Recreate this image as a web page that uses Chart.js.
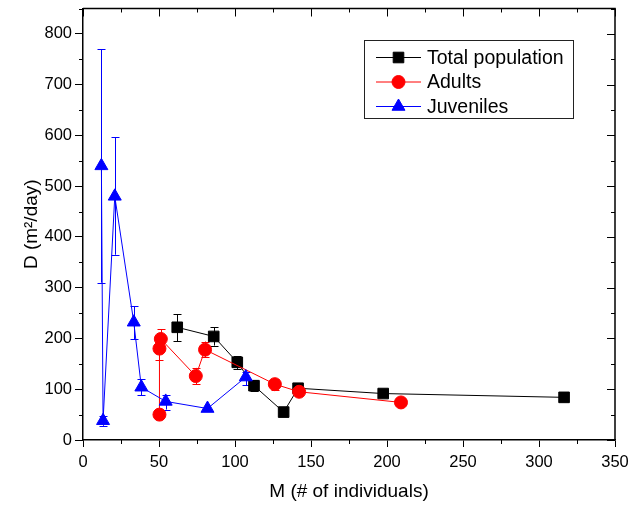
<!DOCTYPE html>
<html><head><meta charset="utf-8">
<script src="https://cdn.jsdelivr.net/npm/chart.js@4.4.0/dist/chart.umd.min.js"></script>
<style>html,body{margin:0;padding:0;background:#fff}#wrap{width:631px;height:507px}</style>
</head><body><div id="wrap"><canvas id="c" width="631" height="507"></canvas></div>
<script>
// ---- data ----
const seriesNames = ['Total population', 'Adults', 'Juveniles'];

const totalM    = [62, 86, 101.5, 112.5, 132, 141.5, 197.5, 316.5];
const totalD    = [222, 204, 153, 107, 55, 102, 91.5, 84];
const totalHigh = [248, 222, 165, 118, null, null, null, null];
const totalLow  = [195, 186, 140, 97, null, null, null, null];

const adultsM    = [50.3, 50.3, 51.2, 74.2, 80.3, 126.2, 142.2, 209.2];
const adultsD    = [50, 180, 199, 126, 178, 110, 95, 74];
const adultsHigh = [null, 203, 218, 142, 194, 120, null, null];
const adultsLow  = [null, 157, 180, 110, 163, 99, null, null];

const juvM    = [12.1, 13.2, 20.9, 33.4, 38.4, 54.4, 81.9, 107.1];
const juvD    = [540, 38, 480, 232, 104, 76, 62, 124];
const juvHigh = [770, 48, 596, 263, 120, 88, null, 134];
const juvLow  = [310, 28, 365, 198, 88, 60, null, 108];

const xTickValues = [0, 50, 100, 150, 200, 250, 300, 350];
const yTickValues = [0, 100, 200, 300, 400, 500, 600, 700, 800];

const FONT = "'Liberation Sans', Arial, sans-serif";

function pts(xs, ys){ return xs.map((x,i)=>({x:x, y:ys[i]})); }

const errSets = [
  {high: totalHigh, low: totalLow},
  {high: adultsHigh, low: adultsLow},
  {high: juvHigh, low: juvLow}
];

const errorBars = {
  id: 'errorBars',
  beforeDatasetsDraw(chart){
    const ctx = chart.ctx, xs = chart.scales.x, ys = chart.scales.y;
    chart.data.datasets.forEach((ds, di)=>{
      const e = errSets[di];
      ctx.save();
      ctx.strokeStyle = ds.borderColor;
      ctx.lineWidth = 1;
      ds.data.forEach((p, i)=>{
        if (e.high[i] == null) return;
        const px = Math.round(xs.getPixelForValue(p.x)) + 0.5;
        const yh = ys.getPixelForValue(e.high[i]);
        const yl = ys.getPixelForValue(e.low[i]);
        ctx.beginPath();
        ctx.moveTo(px, yh); ctx.lineTo(px, yl);
        ctx.moveTo(px-4, Math.round(yh)+0.5); ctx.lineTo(px+4, Math.round(yh)+0.5);
        ctx.moveTo(px-4, Math.round(yl)+0.5); ctx.lineTo(px+4, Math.round(yl)+0.5);
        ctx.stroke();
      });
      ctx.restore();
    });
  }
};

function drawMarker(ctx, style, r, x, y, color){
  ctx.save();
  ctx.fillStyle = color; ctx.strokeStyle = color; ctx.lineWidth = 1;
  Chart.helpers.drawPoint(ctx, {pointStyle: style, radius: r, borderWidth: 1, rotation: 0}, x, y);
  ctx.restore();
}

const frame = {
  id: 'frame',
  afterDraw(chart){
    const ctx = chart.ctx, a = chart.chartArea, xs = chart.scales.x, ys = chart.scales.y;
    ctx.save();
    ctx.strokeStyle = '#000';
    ctx.lineWidth = 1.5;
    ctx.beginPath();
    ctx.moveTo(a.left, a.top); ctx.lineTo(a.right, a.top); ctx.lineTo(a.right, a.bottom);
    ctx.stroke();
    ctx.lineWidth = 1;
    ctx.beginPath();
    for (let v = 0; v <= 850; v += 50) {
      const y = Math.round(ys.getPixelForValue(v)) + 0.5;
      const major = v % 100 === 0 && v <= 800;
      if (!major) { ctx.moveTo(a.left - 4, y); ctx.lineTo(a.left, y); }
      ctx.moveTo(a.right, y); ctx.lineTo(a.right - (major ? 8 : 4), y);
    }
    for (let v = 0; v <= 350; v += 25) {
      const x = Math.round(xs.getPixelForValue(v)) + 0.5;
      const major = v % 50 === 0;
      if (!major) { ctx.moveTo(x, a.bottom); ctx.lineTo(x, a.bottom + 4); }
      ctx.moveTo(x, a.top); ctx.lineTo(x, a.top + (major ? 8 : 4));
    }
    ctx.stroke();

    // legend
    const L = {x1: 364, y1: 40, x2: 573, y2: 118};
    ctx.strokeStyle = '#222';
    ctx.lineWidth = 1;
    ctx.strokeRect(L.x1 + 0.5, L.y1 + 0.5, L.x2 - L.x1, L.y2 - L.y1);
    const rows = [57.5, 82, 106.5];
    chart.data.datasets.forEach((ds, i)=>{
      const y = rows[i];
      ctx.strokeStyle = ds.borderColor;
      ctx.lineWidth = 1;
      ctx.beginPath(); ctx.moveTo(376, y); ctx.lineTo(421, y); ctx.stroke();
      drawMarker(ctx, ds.pointStyle, ds.pointRadius, 398.5, y, ds.borderColor);
      ctx.fillStyle = '#000';
      ctx.font = '19.5px ' + FONT;
      ctx.textBaseline = 'middle';
      ctx.textAlign = 'left';
      ctx.fillText(seriesNames[i], 427, y + 1);
    });
    ctx.restore();
  }
};

function mkDs(label, xs, ys, color, style, radius, order){
  return {
    label: label, data: pts(xs, ys), showLine: true,
    borderColor: color, backgroundColor: color,
    pointBackgroundColor: color, pointBorderColor: color,
    borderWidth: 1, pointBorderWidth: 1, pointStyle: style, pointRadius: radius,
    pointHoverRadius: radius, tension: 0, order: order
  };
}

new Chart(document.getElementById('c'), {
  type: 'scatter',
  data: {
    datasets: [
      mkDs(seriesNames[0], totalM, totalD, '#000000', 'rect', 7.5, 3),
      mkDs(seriesNames[1], adultsM, adultsD, '#ff0000', 'circle', 6.5, 2),
      mkDs(seriesNames[2], juvM, juvD, '#0000ff', 'triangle', 7.5, 1)
    ]
  },
  options: {
    responsive: false, animation: false, devicePixelRatio: 1,
    layout: {padding: {left: 0, top: 6, right: 16, bottom: 0}},
    plugins: {legend: {display: false}, tooltip: {enabled: false}},
    scales: {
      x: {
        type: 'linear', min: 0, max: 350, position: 'bottom',
        afterBuildTicks: s => { s.ticks = xTickValues.map(v => ({value: v})); },
        ticks: {font: {family: FONT, size: 16.5}, color: '#000', padding: 6, maxRotation: 0, autoSkip: false},
        grid: {drawOnChartArea: false, tickLength: 7, color: '#000', lineWidth: 1},
        border: {color: '#000', width: 1.5},
        title: {display: true, text: 'M (# of individuals)', font: {family: FONT, size: 19}, color: '#000', padding: {top: 0, bottom: 4}},
        afterFit: s => { s.height = 67; s.paddingLeft = 0; s.paddingRight = 0; }
      },
      y: {
        type: 'linear', min: 0, max: 850, position: 'left',
        afterBuildTicks: s => { s.ticks = yTickValues.map(v => ({value: v})); },
        ticks: {font: {family: FONT, size: 16.5}, color: '#000', padding: 3, autoSkip: false},
        grid: {drawOnChartArea: false, tickLength: 8, color: '#000', lineWidth: 1},
        border: {color: '#000', width: 1.5},
        title: {display: true, text: 'D (m\u00B2/day)', font: {family: FONT, size: 19}, color: '#000', padding: {top: 20, bottom: 0}},
        afterFit: s => { s.width = 83; s.paddingTop = 0; s.paddingBottom = 0; }
      }
    }
  },
  plugins: [errorBars, frame]
});
</script>
</body></html>
